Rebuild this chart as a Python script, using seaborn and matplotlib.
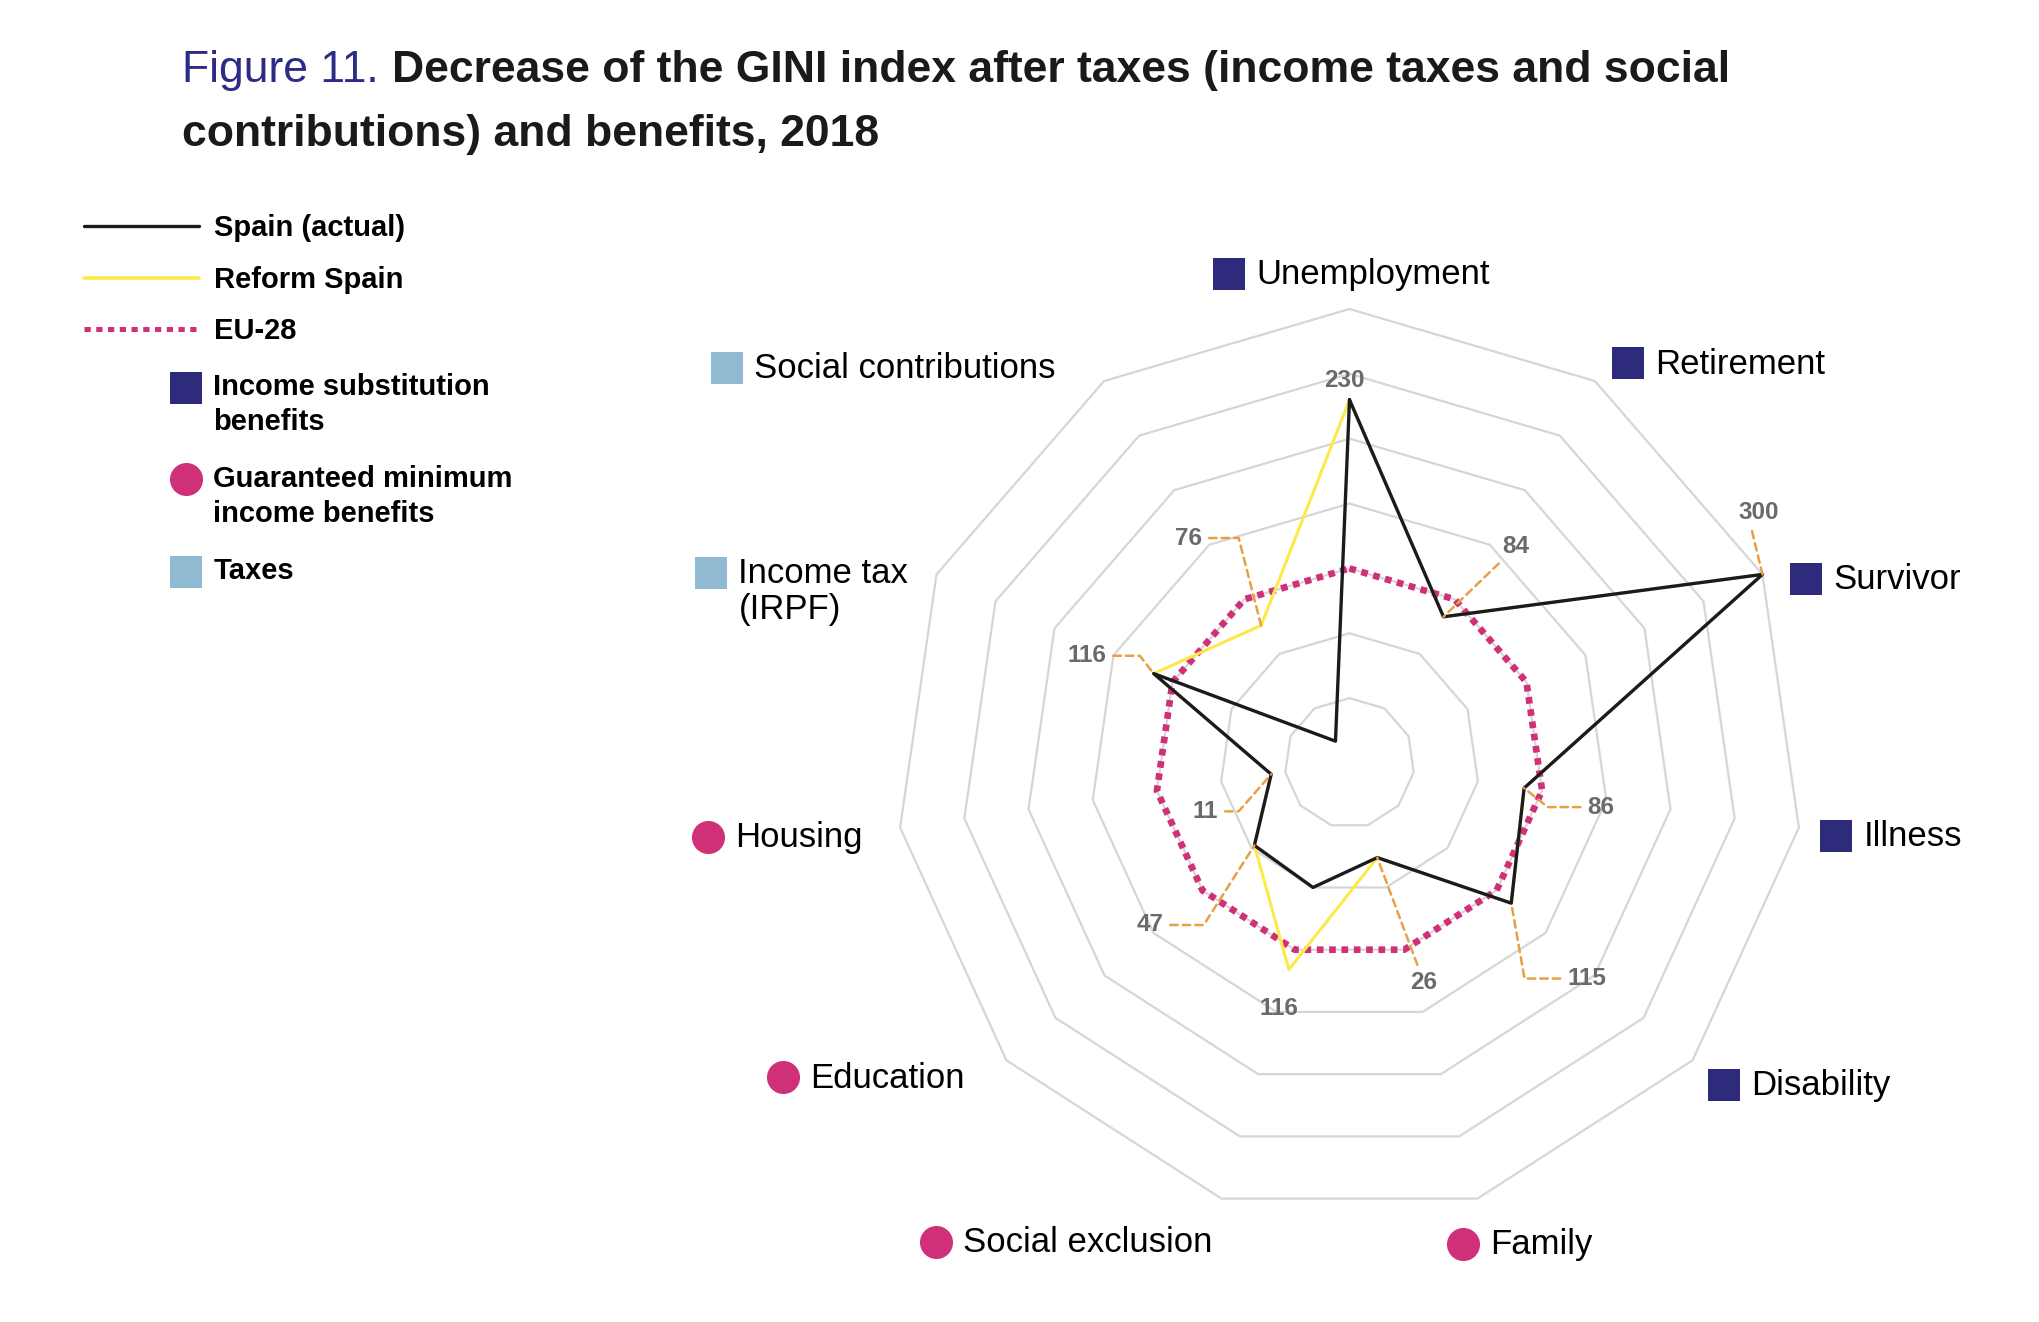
import numpy as np
import matplotlib
matplotlib.use("Agg")
import matplotlib.pyplot as plt
import seaborn as sns

# ---- data (index, EU-28 = 100) ----
categories = ["Unemployment", "Retirement", "Survivor", "Illness", "Disability",
              "Family", "Social exclusion", "Education", "Housing",
              "Income tax\n(IRPF)", "Social contributions"]
cat_group = ["subst", "subst", "subst", "subst", "subst",
             "gmi", "gmi", "gmi", "gmi", "tax", "tax"]
spain_actual = [230, 84, 300, 86, 115, 26, 50, 47, 11, 116, -30]
reform_spain = [230, 84, 300, 86, 115, 26, 116, 47, 11, 116, 76]
eu28 = [100, 100, 100, 100, 100, 100, 100, 100, 100, 100, 100]
ring_values = [0, 50, 100, 150, 200, 250, 300]

# value labels: which category, which series, printed text
label_cat = [0, 1, 2, 3, 4, 5, 6, 7, 8, 9, 10]
label_series = ["spain", "spain", "spain", "spain", "spain", "spain",
                "reform", "spain", "spain", "spain", "reform"]
label_text = ["230", "84", "300", "86", "115", "26", "116", "47", "11", "116", "76"]

# ---- layout (pixels) ----
label_offset = [(-5.5, 22), (72, 73), (-4, 64), (76.6, -16.5), (75.2, -72.9),
                (46.6, -122.8), (-9.6, -36.1), (-104.4, -77.1), (-65.5, -34.6),
                (-66.4, 20.3), (-72.3, 90)]
# None = no leader, ("s", relpos) = straight, ("e", angle, relpos) = elbow
label_leader = [None, ("s", (0.1, 0)), ("s", (0.3, 0)), ("e", -38.8, (0, 0.5)),
                ("e", -80, (0, 0.5)), ("s", (0.35, 1)), None,
                ("e", 57.5, (1, 0.5)), ("e", 48.8, (1, 0.5)),
                ("e", 127.8, (1, 0.5)), ("e", 104.4, (1, 0.5))]
cat_marker_pos = [(1229, 273.5), (1628, 363), (1805.7, 578.8), (1836.3, 836),
                  (1723.8, 1084.9), (1462.9, 1243.9), (936, 1242), (782.9, 1077.1),
                  (707.9, 836.8), (711, 572.5), (727, 368)]

NAVY = "#2e2a7c"
PINK = "#d03077"
LBLUE = "#8fbad1"
YELLOW = "#fde94a"
BLACK = "#1b1a1f"
ORANGE = "#e8a045"
GREY_TXT = "#6a6a6a"
group_style = {"subst": ("s", NAVY, 22.7), "gmi": ("o", PINK, 23.8), "tax": ("s", LBLUE, 22.7)}

sns.set_theme(style="white")
plt.rcParams["font.family"] = ["Liberation Sans", "DejaVu Sans"]

W, H = 2040, 1322
fig = plt.figure(figsize=(W / 100, H / 100), dpi=100)
fig.patch.set_facecolor("white")

# overlay axes in pixel units for title, legend and category labels
lay = fig.add_axes([0, 0, 1, 1])
lay.set_xlim(0, W)
lay.set_ylim(H, 0)
lay.axis("off")

cx, cy, R = 1349.5, 763, 454
ax = fig.add_axes([(cx - R) / W, (H - cy - R) / H, 2 * R / W, 2 * R / H], projection="polar")
ax.set_theta_zero_location("N")
ax.set_theta_direction(-1)
ax.patch.set_alpha(0)

n = len(categories)
theta = np.linspace(0, 2 * np.pi, n, endpoint=False)
theta_c = np.append(theta, theta[0] + 2 * np.pi)


def closed(vals):
    return np.append(np.asarray(vals, dtype=float), vals[0])


for rv in ring_values:
    ax.plot(theta_c, np.full(n + 1, rv), color="#d6d6d6", lw=1.6, zorder=1, clip_on=False)

sns.lineplot(x=theta_c, y=closed(eu28), ax=ax, sort=False, estimator=None,
             color=PINK, lw=4.8, linestyle=(0, (1.0, 0.85)), dash_capstyle="butt",
             zorder=2, clip_on=False)
sns.lineplot(x=theta_c, y=closed(reform_spain), ax=ax, sort=False, estimator=None,
             color=YELLOW, lw=2.2, zorder=3, clip_on=False)
sns.lineplot(x=theta_c, y=closed(spain_actual), ax=ax, sort=False, estimator=None,
             color=BLACK, lw=2.4, zorder=4, clip_on=False)

ax.set_ylim(-50, 300)
ax.set_xticks([])
ax.set_yticks([])
ax.grid(False)
ax.spines["polar"].set_visible(False)
ax.set_xlabel("")
ax.set_ylabel("")

series = {"spain": spain_actual, "reform": reform_spain}
for ci, s, txt, off, lead in zip(label_cat, label_series, label_text, label_offset, label_leader):
    xy = (theta[ci], series[s][ci])
    kw = dict(xy=xy, xytext=off, textcoords="offset pixels", ha="center",
              va="center_baseline", fontsize=17.5, fontweight="bold", color=GREY_TXT,
              annotation_clip=False, zorder=6)
    if lead is not None:
        if lead[0] == "s":
            conn, rel = "arc3,rad=0", lead[1]
        else:
            conn, rel = f"angle,angleA=0,angleB={lead[1]},rad=0", lead[2]
        kw["arrowprops"] = dict(arrowstyle="-", color=ORANGE, lw=1.8,
                                linestyle=(0, (3, 2)), connectionstyle=conn,
                                shrinkA=2.5, shrinkB=0, relpos=rel)
    ax.annotate(txt, **kw)

# category labels with group markers
for name, grp, (mx, my) in zip(categories, cat_group, cat_marker_pos):
    mk, col, ms = group_style[grp]
    lay.plot([mx], [my], marker=mk, ms=ms, color=col, mew=0, linestyle="none")
    for k, line in enumerate(name.split("\n")):
        lay.text(mx + 27.5, my + 10.5 + k * 35.6, line, fontsize=25, color="black",
                 ha="left", va="baseline")

# legend
leg_lines = [("Spain (actual)", BLACK, 2.4, "-", 225.7),
             ("Reform Spain", YELLOW, 2.6, "-", 278.3),
             ("EU-28", PINK, 3.6, (0, (1.25, 1.1)), 329.3)]
for txt, col, lw, ls, y in leg_lines:
    lay.plot([84.3, 199.3], [y, y], color=col, lw=lw, linestyle=ls, dash_capstyle="butt")
    lay.text(214, y + 10, txt, fontsize=21, fontweight="bold", color="black",
             ha="left", va="baseline")

leg_keys = [("Income substitution\nbenefits", "subst", 388),
            ("Guaranteed minimum\nincome benefits", "gmi", 479.3),
            ("Taxes", "tax", 571.7)]
for txt, grp, y in leg_keys:
    mk, col, ms = group_style[grp]
    lay.plot([186.5], [y], marker=mk, ms=ms, color=col, mew=0, linestyle="none")
    for k, line in enumerate(txt.split("\n")):
        lay.text(213.3, y + 7.3 + k * 35, line, fontsize=21, fontweight="bold",
                 color="black", ha="left", va="baseline")

# title
renderer = fig.canvas.get_renderer()
t1 = lay.text(181.7, 81.7, "Figure 11.", fontsize=32, color="#2d2b86",
              ha="left", va="baseline")
x_end = t1.get_window_extent(renderer=renderer).x1
lay.text(x_end + 14, 81.7, "Decrease of the GINI index after taxes (income taxes and social",
         fontsize=32, fontweight="bold", color="#1a1a1a", ha="left", va="baseline")
lay.text(181.7, 146, "contributions) and benefits, 2018", fontsize=32,
         fontweight="bold", color="#1a1a1a", ha="left", va="baseline")

fig.savefig("out.png", dpi=100, facecolor="white")
